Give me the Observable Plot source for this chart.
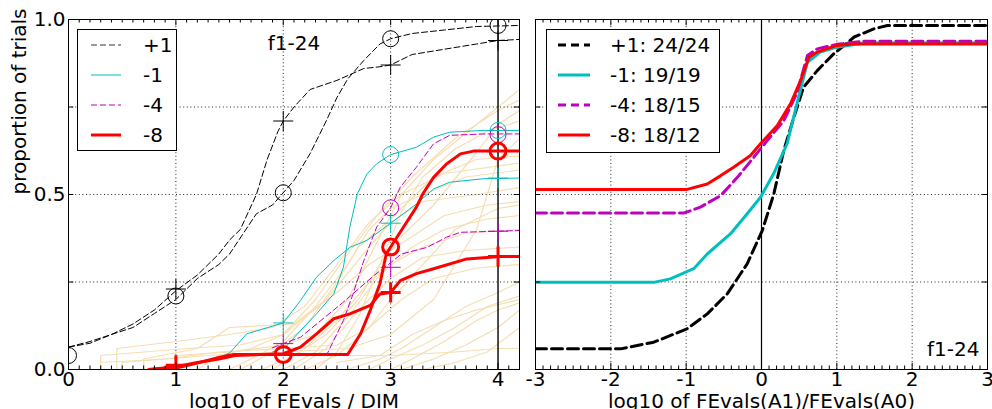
<!DOCTYPE html>
<html><head><meta charset="utf-8">
<script src="https://cdn.jsdelivr.net/npm/d3@7"></script>
<script src="https://cdn.jsdelivr.net/npm/@observablehq/plot@0.6"></script>
<style>
body{margin:0;background:#fff;}
#wrap{position:relative;width:992px;height:409px;overflow:hidden;font-family:"DejaVu Sans",sans-serif;}
#wrap svg{position:absolute;top:0;overflow:visible;}
</style></head><body><div id="wrap"></div>
<script>
// ---------- text ----------
const panelLabel = "f1-24";
const leftXTitle = "log10 of FEvals / DIM";
const leftYTitle = "proportion of trials";
const rightXTitle = "log10 of FEvals(A1)/FEvals(A0)";
const leftXTicks = [0, 1, 2, 3, 4];
const leftYTicks = [0, 0.5, 1];
const rightXTicks = [-3, -2, -1, 0, 1, 2, 3];
const gridYVals = [0.25, 0.5, 0.75];
const leftLegendLabels = ["+1", "-1", "-4", "-8"];
const rightLegendLabels = ["+1: 24/24", "-1: 19/19", "-4: 18/15", "-8: 18/12"];

// ---------- left panel: ECDF curves (A0 = circle markers, A1 = plus markers) ----------
const p1Circle = [[0,0.064],[0.2,0.075],[0.4,0.1],[0.6,0.12],[0.8,0.16],[1.0,0.2],[1.2,0.26],[1.4,0.3],[1.5,0.33],[1.75,0.445],[1.9,0.47],[2.0,0.505],[2.1,0.54],[2.25,0.617],[2.4,0.71],[2.5,0.777],[2.6,0.83],[2.75,0.883],[2.9,0.93],[3.0,0.945],[3.2,0.96],[3.5,0.97],[3.8,0.98],[4.2,0.983]];
const p1Plus = [[0,0.064],[0.2,0.08],[0.4,0.1],[0.6,0.13],[0.8,0.17],[1.0,0.225],[1.2,0.27],[1.4,0.33],[1.5,0.37],[1.6,0.4],[1.75,0.5],[1.85,0.6],[1.95,0.68],[2.0,0.71],[2.1,0.75],[2.25,0.8],[2.5,0.826],[2.75,0.86],[2.9,0.865],[3.0,0.87],[3.2,0.9],[3.5,0.915],[3.8,0.93],[4.0,0.94],[4.2,0.943]];
const m1Circle = [[1.9,0.05],[2.02,0.064],[2.16,0.111],[2.31,0.159],[2.47,0.216],[2.56,0.292],[2.62,0.407],[2.69,0.502],[2.78,0.559],[2.87,0.588],[3.0,0.614],[3.24,0.635],[3.4,0.664],[3.55,0.678],[3.86,0.683],[4.2,0.683]];
const m1Plus = [[1.45,0.04],[1.507,0.049],[1.66,0.102],[2.0,0.133],[2.16,0.197],[2.31,0.264],[2.47,0.311],[2.62,0.349],[2.78,0.369],[3.0,0.418],[3.24,0.473],[3.4,0.516],[3.55,0.535],[3.86,0.545],[4.2,0.547]];
const m4Circle = [[2.3,0.04],[2.41,0.045],[2.56,0.14],[2.65,0.216],[2.75,0.311],[2.87,0.407],[3.0,0.462],[3.09,0.521],[3.24,0.578],[3.4,0.645],[3.55,0.669],[3.86,0.673],[4.2,0.673]];
const m4Plus = [[1.9,0.062],[2.0,0.074],[2.16,0.092],[2.35,0.14],[2.55,0.19],[2.7,0.23],[2.85,0.27],[3.0,0.305],[3.1,0.33],[3.34,0.349],[3.52,0.378],[3.65,0.392],[4.2,0.397]];
const m8Circle = [[0.75,0.0],[1.0,0.004],[1.17,0.016],[1.41,0.035],[1.54,0.043],[2.0,0.043],[2.6,0.043],[2.72,0.102],[2.81,0.169],[2.9,0.245],[2.96,0.331],[3.0,0.35],[3.12,0.407],[3.24,0.464],[3.3,0.502],[3.4,0.549],[3.52,0.587],[3.65,0.616],[3.77,0.624],[4.2,0.624]];
const m8Plus = [[0.75,0.0],[1.0,0.008],[1.2,0.02],[1.4,0.03],[1.55,0.04],[2.0,0.045],[2.16,0.064],[2.31,0.102],[2.47,0.145],[2.62,0.159],[2.81,0.183],[2.9,0.216],[3.0,0.22],[3.09,0.254],[3.24,0.274],[3.4,0.288],[3.71,0.316],[4.02,0.323],[4.2,0.323]];

// marker positions
const p1CircleMarks = [[0,0.04],[1,0.21],[2,0.505],[3,0.945],[4,0.983]];
const p1PlusMarks = [[1,0.23],[2,0.71],[3,0.87],[4,0.94]];
const m1CircleMarks = [[3,0.614],[4,0.683]];
const m1PlusMarks = [[2,0.133],[3,0.418],[4,0.547]];
const m4CircleMarks = [[3,0.462],[4,0.671]];
const m4PlusMarks = [[2,0.074],[3,0.292],[4,0.395]];
const m8CircleMarks = [[2,0.043],[3,0.35],[4,0.624]];
const m8PlusMarks = [[1,0.012],[3,0.22],[4,0.323]];

// background per-function ECDFs (light)
const bg01 = [[0.3,0],[0.3,0.04],[0.7,0.05],[1.1,0.06],[1.6,0.07],[2.0,0.1],[2.3,0.2],[2.6,0.33],[2.9,0.45],[3.2,0.55],[3.6,0.66],[4.0,0.74],[4.2,0.77]];
const bg02 = [[0.45,0],[0.45,0.06],[1.0,0.08],[1.5,0.1],[1.9,0.12],[2.2,0.18],[2.5,0.3],[2.8,0.42],[3.1,0.5],[3.5,0.56],[4.2,0.59]];
const bg03 = [[0.7,0],[0.7,0.03],[1.2,0.06],[1.5,0.12],[2.1,0.13],[2.4,0.2],[2.8,0.35],[3.0,0.42],[3.3,0.48],[3.8,0.5],[4.2,0.52]];
const bg04 = [[1.0,0],[1.0,0.04],[1.5,0.05],[2.0,0.07],[2.3,0.1],[2.6,0.2],[2.9,0.38],[3.1,0.5],[3.4,0.6],[3.8,0.7],[4.2,0.8]];
const bg05 = [[0.3,0.02],[0.9,0.03],[1.4,0.05],[2.0,0.06],[2.5,0.07],[2.8,0.12],[3.0,0.2],[3.3,0.3],[3.6,0.4],[4.0,0.46],[4.2,0.47]];
const bg06 = [[1.5,0],[1.7,0.03],[2.0,0.08],[2.3,0.18],[2.6,0.3],[2.8,0.4],[3.0,0.46],[3.3,0.5],[3.7,0.55],[4.2,0.57]];
const bg07 = [[1.6,0],[1.9,0.05],[2.2,0.12],[2.5,0.25],[2.7,0.35],[3.0,0.43],[3.4,0.55],[3.8,0.6],[4.2,0.61]];
const bg08 = [[1.8,0],[2.1,0.04],[2.4,0.1],[2.7,0.2],[2.9,0.3],[3.1,0.38],[3.4,0.47],[3.8,0.62],[4.0,0.7],[4.2,0.74]];
const bg09 = [[2.0,0],[2.3,0.05],[2.6,0.15],[2.9,0.27],[3.2,0.35],[3.5,0.4],[3.9,0.43],[4.2,0.44]];
const bg10 = [[1.9,0],[2.2,0.06],[2.5,0.14],[2.8,0.25],[3.0,0.3],[3.3,0.35],[3.7,0.39],[4.2,0.4]];
const bg11 = [[2.1,0],[2.4,0.06],[2.7,0.17],[3.0,0.26],[3.3,0.32],[3.7,0.34],[4.2,0.35]];
const bg12 = [[2.2,0],[2.5,0.04],[2.8,0.12],[3.1,0.2],[3.4,0.26],[3.8,0.29],[4.2,0.3]];
const bg13 = [[2.6,0],[2.9,0.03],[3.1,0.06],[3.4,0.12],[3.7,0.18],[4.0,0.22],[4.2,0.25]];
const bg14 = [[2.8,0],[3.0,0.03],[3.3,0.07],[3.6,0.12],[3.9,0.18],[4.2,0.21]];
const bg15 = [[2.5,0.02],[2.9,0.04],[3.2,0.1],[3.5,0.14],[3.8,0.17],[4.2,0.2]];
const bg16 = [[3.0,0],[3.2,0.03],[3.5,0.08],[3.8,0.14],[4.0,0.17],[4.2,0.19]];
const bg17 = [[3.1,0],[3.4,0.03],[3.7,0.07],[4.0,0.12],[4.2,0.17]];
const bg18 = [[3.3,0],[3.6,0.02],[3.9,0.05],[4.2,0.12]];
const bg19 = [[2.0,0.04],[2.6,0.04],[3.0,0.04],[3.6,0.05],[4.0,0.06],[4.2,0.06]];
const bg20 = [[2.3,0],[2.5,0.05],[2.7,0.15],[2.9,0.3],[3.1,0.45],[3.3,0.55],[3.6,0.63],[3.9,0.68],[4.2,0.71]];
const bg21 = [[1.2,0],[1.4,0.04],[1.7,0.06],[2.0,0.1],[2.2,0.15],[2.5,0.22],[2.8,0.3],[3.1,0.36],[3.5,0.44],[3.9,0.47],[4.2,0.48]];
const bg22 = [[0.5,0],[0.5,0.02],[1.3,0.04],[2.0,0.05],[2.6,0.06],[3.0,0.1],[3.4,0.2],[3.8,0.4],[4.0,0.6],[4.2,0.66]];

// ---------- right panel: ECDF of log10 ratio ----------
const rP1 = [[-3,0.059],[-1.87,0.059],[-1.43,0.078],[-0.99,0.116],[-0.72,0.159],[-0.455,0.216],[-0.19,0.302],[0.01,0.397],[0.164,0.502],[0.296,0.626],[0.43,0.721],[0.56,0.807],[0.74,0.854],[0.96,0.902],[1.23,0.95],[1.49,0.973],[1.67,0.983],[3,0.983]];
const rM1 = [[-3,0.249],[-1.43,0.249],[-1.21,0.259],[-0.9,0.288],[-0.72,0.33],[-0.41,0.388],[-0.19,0.445],[-0.013,0.492],[0.16,0.559],[0.34,0.645],[0.47,0.759],[0.61,0.878],[0.78,0.907],[1.0,0.921],[1.36,0.933],[3,0.933]];
const rM4 = [[-3,0.447],[-1.03,0.447],[-0.81,0.464],[-0.54,0.497],[-0.32,0.549],[-0.1,0.607],[0.076,0.654],[0.296,0.711],[0.47,0.79],[0.61,0.897],[0.74,0.916],[1.0,0.929],[1.36,0.938],[3,0.938]];
const rM8 = [[-3,0.514],[-1.0,0.514],[-0.72,0.53],[-0.54,0.554],[-0.37,0.578],[-0.15,0.611],[-0.013,0.645],[0.21,0.697],[0.385,0.759],[0.52,0.826],[0.63,0.892],[0.74,0.907],[1.0,0.926],[1.23,0.93],[3,0.93]];

// ---------- styles ----------
const C = {k: "#000000", c: "#00bfbf", m: "#bf00bf", r: "#ff0000", bg: "#f5deb3"};
const FONT = "DejaVu Sans";
const X = d => d[0], Y = d => d[1];
const hyphenFmt = d => String(d);
const plusSymbol = {draw(ctx, size) { const r = Math.sqrt(size / Math.PI); ctx.moveTo(-r, 0); ctx.lineTo(r, 0); ctx.moveTo(0, -r); ctx.lineTo(0, r); }};

const bgCurves = [bg01,bg02,bg03,bg04,bg05,bg06,bg07,bg08,bg09,bg10,bg11,bg12,bg13,bg14,bg15,bg16,bg17,bg18,bg19,bg20,bg21,bg22];
const bgTable = bgCurves.flatMap((c, i) => c.map(([x, y]) => ({i, x, y})));

const dotted = {stroke: "#000", strokeDasharray: "1,2.6", strokeWidth: 1, strokeOpacity: 0.85};
const leftMinor = d3.range(0, 43).map(i => i / 10).filter(v => Math.abs(v - Math.round(v)) > 1e-9);
const rightMinor = d3.range(-30, 31).map(i => i / 10).filter(v => Math.abs(v - Math.round(v)) > 1e-9);

function curve(data, stroke, width, dash) {
  return Plot.line(data, {x: X, y: Y, stroke, strokeWidth: width, strokeDasharray: dash, clip: true, strokeLinejoin: "round"});
}
function circles(data, stroke, width) {
  return Plot.dot(data, {x: X, y: Y, r: 8, stroke, strokeWidth: width, fill: "none", clip: true});
}
function pluses(data, stroke, width) {
  return Plot.dot(data, {x: X, y: Y, r: 10, symbol: plusSymbol, stroke, strokeWidth: width, fill: "none", clip: true});
}

const left = Plot.plot({
  width: 520, height: 409, marginLeft: 68, marginRight: 1, marginTop: 19, marginBottom: 40,
  x: {domain: [0, 4.2]}, y: {domain: [0, 1]},
  style: {fontFamily: FONT, fontSize: "20px", background: "transparent", overflow: "visible", color: "#000"},
  marks: [
    Plot.line(bgTable, {x: "x", y: "y", z: "i", stroke: C.bg, strokeWidth: 1.2, clip: true}),
    Plot.ruleX([1, 2, 3], dotted),
    Plot.ruleY(gridYVals, dotted),
    Plot.ruleX([4], {stroke: "#000", strokeWidth: 1.4}),
    curve(p1Circle, C.k, 1, "6,3"),
    curve(p1Plus, C.k, 1, "6,3"),
    curve(m1Circle, C.c, 1),
    curve(m1Plus, C.c, 1),
    curve(m4Circle, C.m, 1, "6,3"),
    curve(m4Plus, C.m, 1, "6,3"),
    curve(m8Circle, C.r, 3),
    curve(m8Plus, C.r, 3),
    circles(p1CircleMarks, C.k, 1), pluses(p1PlusMarks, C.k, 1),
    circles(m1CircleMarks, C.c, 1), pluses(m1PlusMarks, C.c, 1),
    circles(m4CircleMarks, C.m, 1), pluses(m4PlusMarks, C.m, 1),
    circles(m8CircleMarks, C.r, 3), pluses(m8PlusMarks, C.r, 3),
    // inward ticks
    Plot.ruleX(leftMinor, {y1: 0, y2: 0.01, stroke: "#000"}),
    Plot.ruleX(leftMinor, {y1: 0.99, y2: 1, stroke: "#000"}),
    Plot.ruleX(leftXTicks, {y1: 0, y2: 0.018, stroke: "#000"}),
    Plot.ruleX(leftXTicks, {y1: 0.982, y2: 1, stroke: "#000"}),
    Plot.ruleY([0, 0.25, 0.5, 0.75, 1], {x1: 0, x2: 0.05, stroke: "#000"}),
    Plot.ruleY([0, 0.25, 0.5, 0.75, 1], {x1: 4.15, x2: 4.2, stroke: "#000"}),
    Plot.frame({stroke: "#000", strokeWidth: 1}),
    Plot.axisX({ticks: leftXTicks, tickSize: 0, tickPadding: 2, tickFormat: hyphenFmt, label: null, fontSize: 20}),
    Plot.axisY({ticks: leftYTicks, tickSize: 0, tickPadding: 3, tickFormat: d3.format(".1f"), label: null, fontSize: 20}),
    Plot.text([leftXTitle], {text: d => d, frameAnchor: "bottom", dy: 24, lineAnchor: "top", fontSize: 20}),
    Plot.text([leftYTitle], {text: d => d, frameAnchor: "left", dx: -49, rotate: -90, fontSize: 20}),
    Plot.text([panelLabel], {text: d => d, frameAnchor: "top", dy: 16, fontSize: 20})
  ]
});

const right = Plot.plot({
  width: 472, height: 409, marginLeft: 15, marginRight: 5, marginTop: 19, marginBottom: 40,
  x: {domain: [-3, 3]}, y: {domain: [0, 1], axis: null},
  style: {fontFamily: FONT, fontSize: "20px", background: "transparent", overflow: "visible", color: "#000"},
  marks: [
    Plot.ruleX([-3, -2, -1, 1, 2, 3], dotted),
    Plot.ruleY([0, 0.25, 0.5, 0.75, 1], dotted),
    Plot.ruleX([0], {stroke: "#000", strokeWidth: 1.2}),
    curve(rP1, C.k, 3, "11,5"),
    curve(rM1, C.c, 3),
    curve(rM4, C.m, 3, "11,5"),
    curve(rM8, C.r, 3),
    Plot.ruleX(rightMinor, {y1: 0, y2: 0.01, stroke: "#000"}),
    Plot.ruleX(rightMinor, {y1: 0.99, y2: 1, stroke: "#000"}),
    Plot.ruleX(rightXTicks, {y1: 0, y2: 0.018, stroke: "#000"}),
    Plot.ruleX(rightXTicks, {y1: 0.982, y2: 1, stroke: "#000"}),
    Plot.ruleY([0.25, 0.5, 0.75], {x1: -3, x2: -2.93, stroke: "#000"}),
    Plot.ruleY([0.25, 0.5, 0.75], {x1: 2.93, x2: 3, stroke: "#000"}),
    Plot.frame({stroke: "#000", strokeWidth: 1}),
    Plot.axisX({ticks: rightXTicks, tickSize: 0, tickPadding: 2, tickFormat: hyphenFmt, label: null, fontSize: 20}),
    Plot.text([rightXTitle], {text: d => d, frameAnchor: "bottom", dy: 24, lineAnchor: "top", fontSize: 20}),
    Plot.text([panelLabel], {text: d => d, frameAnchor: "bottom-right", dx: -8, dy: -14, textAnchor: "end", fontSize: 20})
  ]
});

const wrap = document.getElementById("wrap");
left.style.left = "0px";
right.style.left = "520px";
right.style.clipPath = "inset(0px -20px 0px 2px)";
wrap.appendChild(left);
wrap.appendChild(right);

function drawLegend(svg, box, rows, lx1, lx2, tx) {
  const g = d3.select(svg).append("g").attr("font-family", FONT).attr("font-size", 20).attr("text-anchor", "start");
  g.append("rect").attr("x", box[0] + 0.5).attr("y", box[1] + 0.5).attr("width", box[2]).attr("height", box[3])
    .attr("fill", "#fff").attr("stroke", "#000");
  rows.forEach((r, i) => {
    const y = box[1] + 16 + i * 30;
    g.append("line").attr("x1", lx1).attr("x2", lx2).attr("y1", y).attr("y2", y)
      .attr("stroke", r.stroke).attr("stroke-width", r.width).attr("stroke-dasharray", r.dash || null);
    g.append("text").attr("x", tx).attr("y", y).attr("dy", "0.36em").attr("fill", "#000")
      .attr("text-anchor", "start").text(r.label);
  });
}
drawLegend(left, [77, 29, 99, 121], [
  {label: leftLegendLabels[0], stroke: "#333", width: 1, dash: "6,3"},
  {label: leftLegendLabels[1], stroke: C.c, width: 1},
  {label: leftLegendLabels[2], stroke: C.m, width: 1, dash: "6,3"},
  {label: leftLegendLabels[3], stroke: C.r, width: 3}
], 91, 121, 143);
drawLegend(right, [26, 29, 173, 123], [
  {label: rightLegendLabels[0], stroke: C.k, width: 3, dash: "8,5"},
  {label: rightLegendLabels[1], stroke: C.c, width: 3},
  {label: rightLegendLabels[2], stroke: C.m, width: 3, dash: "8,5"},
  {label: rightLegendLabels[3], stroke: C.r, width: 3}
], 38, 70, 90);
</script>
</body></html>
